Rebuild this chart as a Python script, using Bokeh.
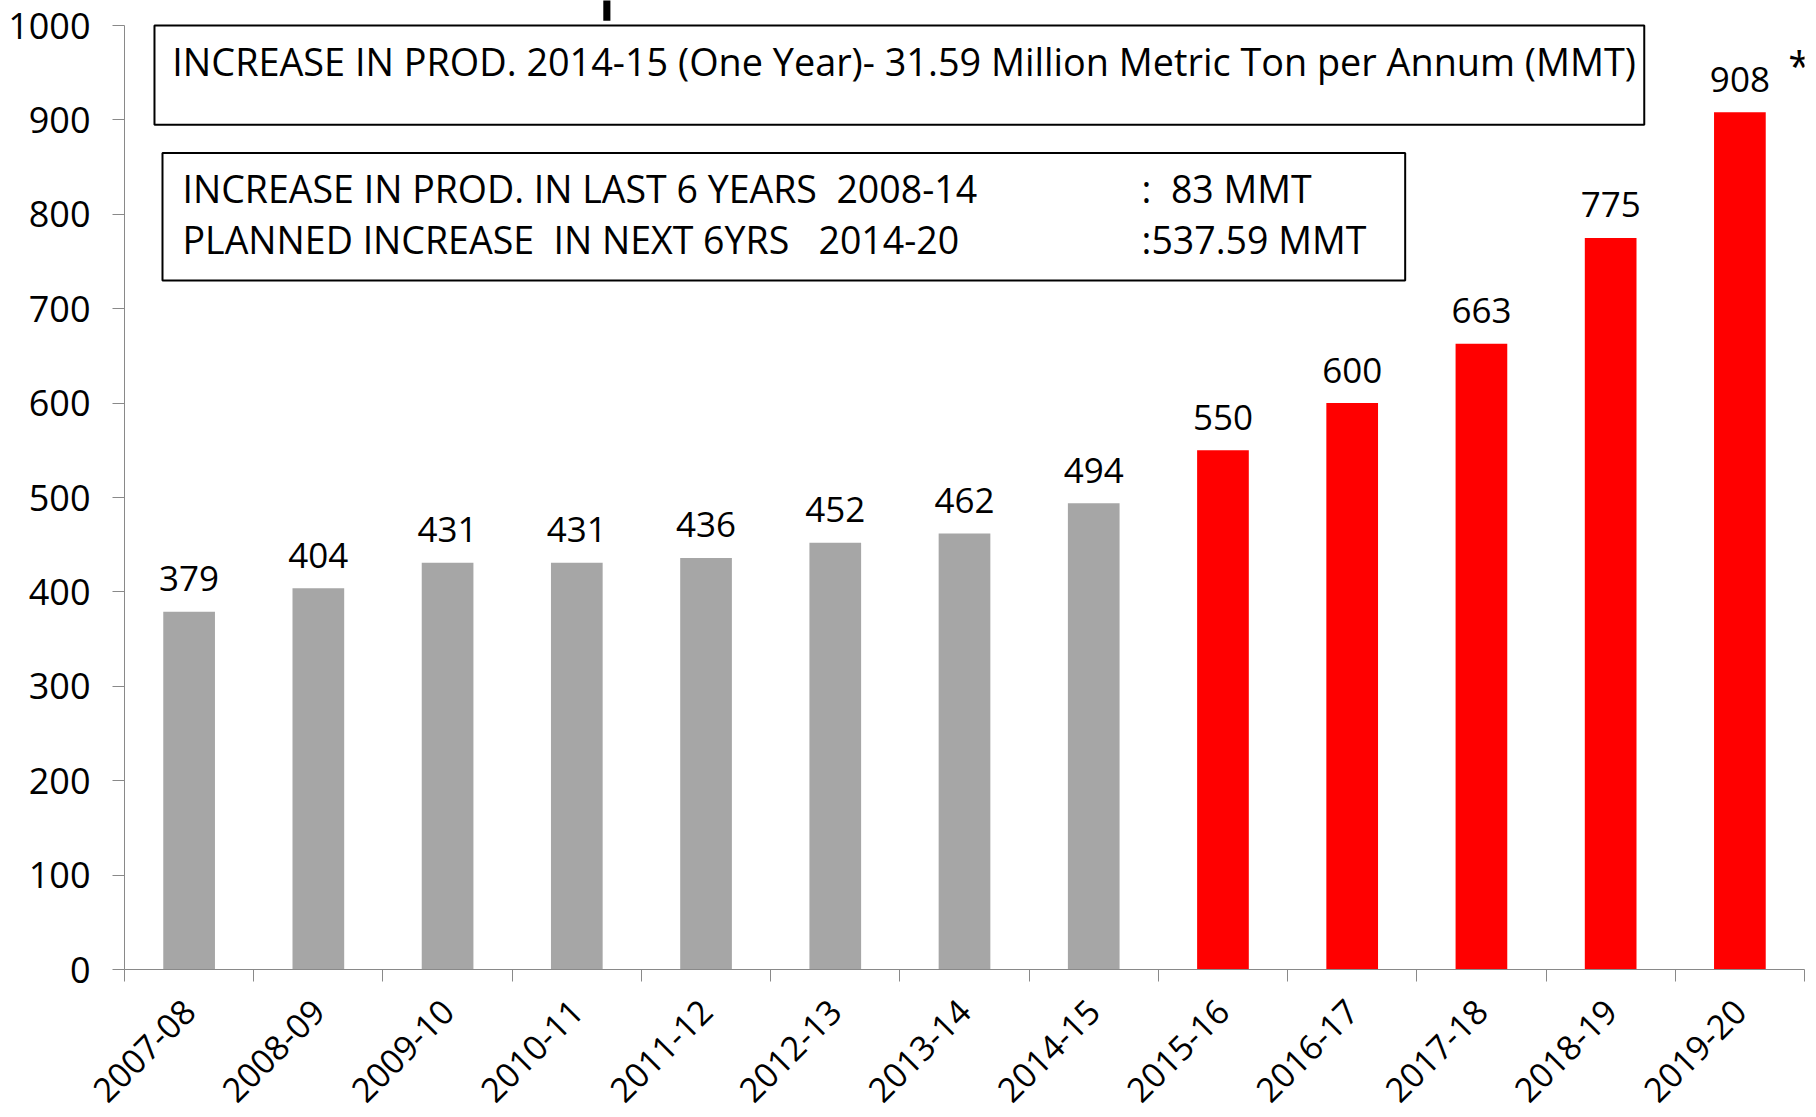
import math
from bokeh.plotting import figure
from bokeh.models import FixedTicker, Range1d, BoxAnnotation, Label, ColumnDataSource
from bokeh.embed import file_html
from bokeh.resources import INLINE
from bokeh.core.properties import value

# ---- data ----
years = ["2007-08", "2008-09", "2009-10", "2010-11", "2011-12", "2012-13", "2013-14",
         "2014-15", "2015-16", "2016-17", "2017-18", "2018-19", "2019-20"]
production = [379, 404, 431, 431, 436, 452, 462, 494, 550, 600, 663, 775, 908]
is_planned = [False] * 8 + [True] * 5
y_ticks = [0, 100, 200, 300, 400, 500, 600, 700, 800, 900, 1000]

NB = "\u00a0"
box1_text = "INCREASE IN PROD. 2014-15 (One Year)- 31.59 Million Metric Ton per Annum (MMT)"
box2_left = ["INCREASE IN PROD. IN LAST 6 YEARS " + NB + "2008-14",
             "PLANNED INCREASE " + NB + "IN NEXT 6YRS " + NB + NB + "2014-20"]
box2_right = [":" + NB + NB + "83 MMT", ":537.59 MMT"]

FONT = "Open Sans"
GRAY = "#A6A6A6"
RED = "#FF0000"
AXIS = "#898989"

xpos = [i + 0.5 for i in range(len(years))]
src = ColumnDataSource(dict(
    x=xpos, top=production,
    color=[RED if p else GRAY for p in is_planned],
    lbl=[str(v) for v in production],
))

p = figure(width=1816, height=1117, output_backend="svg", toolbar_location=None,
           x_range=Range1d(0, len(years)), y_range=Range1d(0, 1026.5),
           min_border_left=124, min_border_right=12, min_border_top=0, min_border_bottom=148)
p.outline_line_color = None
p.xgrid.visible = False
p.ygrid.visible = False

p.vbar(x="x", top="top", width=0.4, bottom=0, color="color", line_color=None, source=src)
p.text(x="x", y="top", text="lbl", source=src, text_align="center", text_baseline="alphabetic",
       y_offset=-33, text_font=value(FONT), text_font_size="35px", text_color="black")

# y axis
ya = p.yaxis[0]
ya.ticker = FixedTicker(ticks=y_ticks)
ya.bounds = (0, 1000)
ya.axis_line_color = AXIS
ya.major_tick_line_color = AXIS
ya.major_tick_out = 12
ya.major_tick_in = 0
ya.minor_tick_line_color = None
ya.major_label_standoff = 22
ya.major_label_text_font = FONT
ya.major_label_text_font_size = "36px"
ya.major_label_text_color = "black"

# x axis
xa = p.xaxis[0]
xa.ticker = FixedTicker(ticks=xpos, minor_ticks=list(range(len(years) + 1)))
xa.major_label_overrides = {x: y for x, y in zip(xpos, years)}
xa.axis_line_color = AXIS
xa.major_tick_line_color = None
xa.major_tick_out = 0
xa.major_tick_in = 0
xa.minor_tick_line_color = AXIS
xa.minor_tick_out = 12
xa.minor_tick_in = 0
xa.major_label_orientation = math.pi / 4
xa.major_label_standoff = 24
xa.major_label_text_font = FONT
xa.major_label_text_font_size = "34px"
xa.major_label_text_color = "black"

# text boxes
p.add_layout(BoxAnnotation(left=0.232, right=11.76, top=1000, bottom=895,
                           fill_color=None, line_color="black", line_alpha=1.0, line_width=2))
p.add_layout(Label(x=0.37, y=962, text=box1_text, text_baseline="middle",
                   text_font=FONT, text_font_size="37.8px", text_color="black"))
p.add_layout(BoxAnnotation(left=0.294, right=9.91, top=865, bottom=730,
                           fill_color=None, line_color="black", line_alpha=1.0, line_width=2))
for yy, lt, rt in zip([827, 773], box2_left, box2_right):
    p.add_layout(Label(x=0.449, y=yy, text=lt, text_baseline="middle",
                       text_font=FONT, text_font_size="37.5px", text_color="black"))
    p.add_layout(Label(x=7.87, y=yy, text=rt, text_baseline="middle",
                       text_font=FONT, text_font_size="37.5px", text_color="black"))

# stray mark above the plot and the asterisk
p.add_layout(BoxAnnotation(left=3.705, right=3.76, top=1030, bottom=1005,
                           fill_color="black", fill_alpha=1.0, line_color=None))
p.add_layout(Label(x=12.96, y=958, text="*", text_align="center", text_baseline="alphabetic",
                   text_font=FONT, text_font_size="40px", text_color="black"))

open("out.html", "w").write(file_html(p, INLINE))
